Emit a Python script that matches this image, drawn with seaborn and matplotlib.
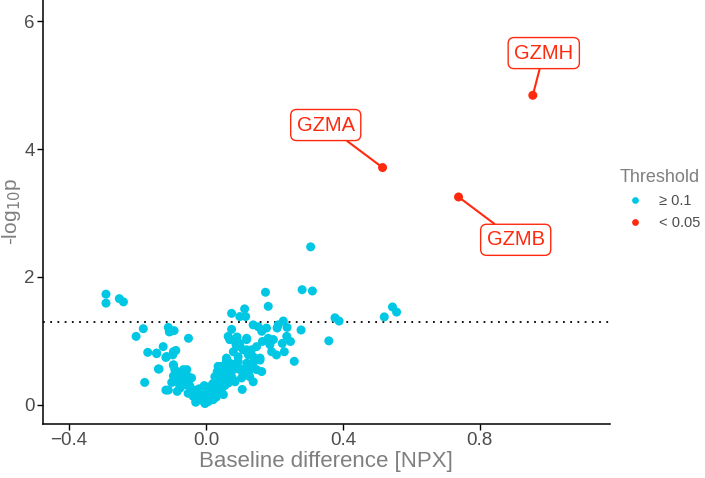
import matplotlib
matplotlib.use("Agg")
import matplotlib.pyplot as plt
import seaborn as sns
import pandas as pd

# cyan points (not significant): baseline difference, -log10 p
x_ns = [0.306, -0.292, -0.292, -0.253, -0.241, 0.174, 0.182, 0.281, 0.311, 0.075,
        0.113, 0.099, 0.116, 0.377, 0.389, 0.521, 0.545, 0.557, 0.226, 0.278,
        0.359, 0.258, -0.183, -0.204, -0.110, -0.107, -0.093, -0.051, -0.170, -0.144,
        -0.125, -0.117, -0.097, -0.088, -0.137, -0.179, -0.095, -0.091, -0.117, -0.084,
        -0.100, -0.076, -0.056, -0.064, -0.042, -0.049, -0.066, -0.052, -0.035, -0.027,
        -0.030, -0.013, -0.003, 0.007, 0.021, 0.012, 0.026, 0.017, 0.031, 0.046,
        0.051, 0.041, 0.026, 0.036, 0.033, 0.055, 0.060, 0.060, 0.070, 0.080,
        0.065, 0.075, 0.090, 0.094, 0.099, 0.104, 0.106, 0.119, 0.124, 0.133,
        0.138, 0.128, 0.138, 0.148, 0.158, 0.163, 0.109, 0.099, 0.088, 0.080,
        0.070, 0.065, 0.075, 0.091, 0.119, 0.138, 0.153, 0.163, 0.165, 0.177,
        0.182, 0.197, 0.208, 0.211, 0.237, 0.236, 0.247, 0.223, 0.192, 0.206,
        0.229, 0.187, 0.148, 0.050, 0.045, 0.060, 0.050, 0.035, 0.045, 0.055,
        0.020, 0.010, 0.000, -0.010, -0.020, -0.030, -0.050, -0.066, -0.076, -0.083,
        -0.095, 0.085, 0.110, 0.095, 0.070, 0.040, 0.015, 0.005, -0.005, 0.030,
        -0.105, -0.095, -0.115, -0.144, -0.139, -0.095, -0.086, -0.066, -0.052, -0.071,
        -0.095, -0.110, -0.076, -0.047, -0.027, -0.037, -0.018, -0.003, 0.012, 0.021,
        0.031, 0.041, 0.036, 0.060, 0.070, 0.055, 0.046, 0.080, 0.094, 0.109,
        0.128, 0.138, 0.158, 0.119, 0.099, 0.070, 0.090, 0.119]
y_ns = [2.47, 1.73, 1.59, 1.66, 1.61, 1.76, 1.54, 1.80, 1.78, 1.43,
        1.50, 1.38, 1.38, 1.36, 1.31, 1.375, 1.53, 1.45, 1.31, 1.17,
        1.00, 0.68, 1.19, 1.07, 1.21, 1.14, 1.16, 1.04, 0.82, 0.80,
        0.91, 0.74, 0.78, 0.85, 0.56, 0.35, 0.62, 0.55, 0.23, 0.21,
        0.35, 0.44, 0.55, 0.44, 0.42, 0.31, 0.31, 0.18, 0.23, 0.13,
        0.04, 0.08, 0.02, 0.05, 0.08, 0.13, 0.18, 0.23, 0.29, 0.26,
        0.16, 0.36, 0.44, 0.60, 0.52, 0.55, 0.44, 0.73, 0.65, 0.55,
        0.34, 0.44, 0.65, 0.75, 0.55, 0.42, 0.24, 0.65, 0.78, 0.86,
        0.75, 0.55, 0.36, 0.55, 0.73, 0.52, 0.86, 0.96, 0.94, 0.83,
        1.02, 1.07, 1.18, 1.06, 1.04, 1.25, 1.22, 1.15, 0.99, 1.20,
        1.04, 1.02, 1.20, 1.25, 1.21, 1.07, 0.99, 0.96, 0.83, 0.78,
        0.83, 0.94, 0.91, 0.50, 0.60, 0.62, 0.38, 0.40, 0.28, 0.30,
        0.33, 0.28, 0.10, 0.15, 0.25, 0.20, 0.30, 0.40, 0.30, 0.46,
        0.45, 0.36, 0.46, 0.58, 0.48, 0.20, 0.10, 0.20, 0.30, 0.12,
        1.145, 0.83, 0.755, 0.81, 0.56, 0.625, 0.495, 0.55, 0.44, 0.36,
        0.36, 0.23, 0.26, 0.29, 0.21, 0.13, 0.08, 0.03, 0.10, 0.23,
        0.34, 0.50, 0.60, 0.68, 0.55, 0.42, 0.18, 0.39, 0.68, 0.55,
        0.44, 0.65, 0.70, 0.86, 0.91, 1.02, 0.96, 1.02]

# significant points
genes = ["GZMH", "GZMA", "GZMB"]
x_sig = [0.955, 0.516, 0.738]
y_sig = [4.84, 3.71, 3.25]
label_x = [0.987, 0.35, 0.905]
label_y = [5.50, 4.375, 2.58]

cyan = "#00C8E4"
red = "#FF2A0E"

df = pd.DataFrame({
    "x": x_ns + x_sig,
    "y": y_ns + y_sig,
    "Threshold": ["\u2265 0.1"] * len(x_ns) + ["< 0.05"] * len(x_sig),
})

sns.set_style("white")
plt.rcParams["font.family"] = ["Liberation Sans", "DejaVu Sans"]

fig = plt.figure(figsize=(7.05, 4.78), dpi=100)
ax = fig.add_axes([0.061, 0.113, 0.804, 0.887])

sns.scatterplot(data=df, x="x", y="y", hue="Threshold",
                palette={"\u2265 0.1": cyan, "< 0.05": red},
                s=42, linewidth=0, ax=ax)

ax.axhline(1.301, color="black", linestyle=(0, (1, 3)), linewidth=1.3, zorder=0)

for g, px, py, lx, ly in zip(genes, x_sig, y_sig, label_x, label_y):
    ax.annotate(g, xy=(px, py), xytext=(lx, ly), ha="center", va="center",
                color=red, fontsize=14.5,
                bbox=dict(boxstyle="round,pad=0.3,rounding_size=0.3",
                          fc="white", ec=red, lw=1),
                arrowprops=dict(arrowstyle="-", color=red, lw=1.5,
                                shrinkA=0, shrinkB=0))

ax.set_xlim(-0.476, 1.18)
ax.set_ylim(-0.3, 6.33)
ax.set_xticks([-0.4, 0.0, 0.4, 0.8])
ax.set_xticklabels(["\u22120.4", "0.0", "0.4", "0.8"])
ax.set_yticks([0, 2, 4, 6])
ax.set_xlabel("Baseline difference [NPX]", fontsize=16, color="#7F7F7F", labelpad=1)
ax.set_ylabel("-log$_{10}$p", fontsize=15, color="#7F7F7F")
ax.yaxis.set_label_coords(-0.035, 0.5)
ax.tick_params(axis="both", which="both", direction="out", length=4, width=1,
               color="black", labelsize=13.5, labelcolor="#4D4D4D", left=True, bottom=True,
               pad=2)
sns.despine(ax=ax)
for sp in ["left", "bottom"]:
    ax.spines[sp].set_color("black")
    ax.spines[sp].set_linewidth(1.1)

sns.move_legend(ax, "center left", bbox_to_anchor=(1.0, 0.53), frameon=False,
                title="Threshold", fontsize=10.5, title_fontsize=13,
                handletextpad=0.7, markerscale=0.75, borderaxespad=0.3,
                labelspacing=0.55)
leg = ax.get_legend()
leg.get_title().set_color("#7F7F7F")
for t in leg.get_texts():
    t.set_color("#4D4D4D")
leg._legend_box.align = "left"

fig.savefig("out.png", dpi=100)
